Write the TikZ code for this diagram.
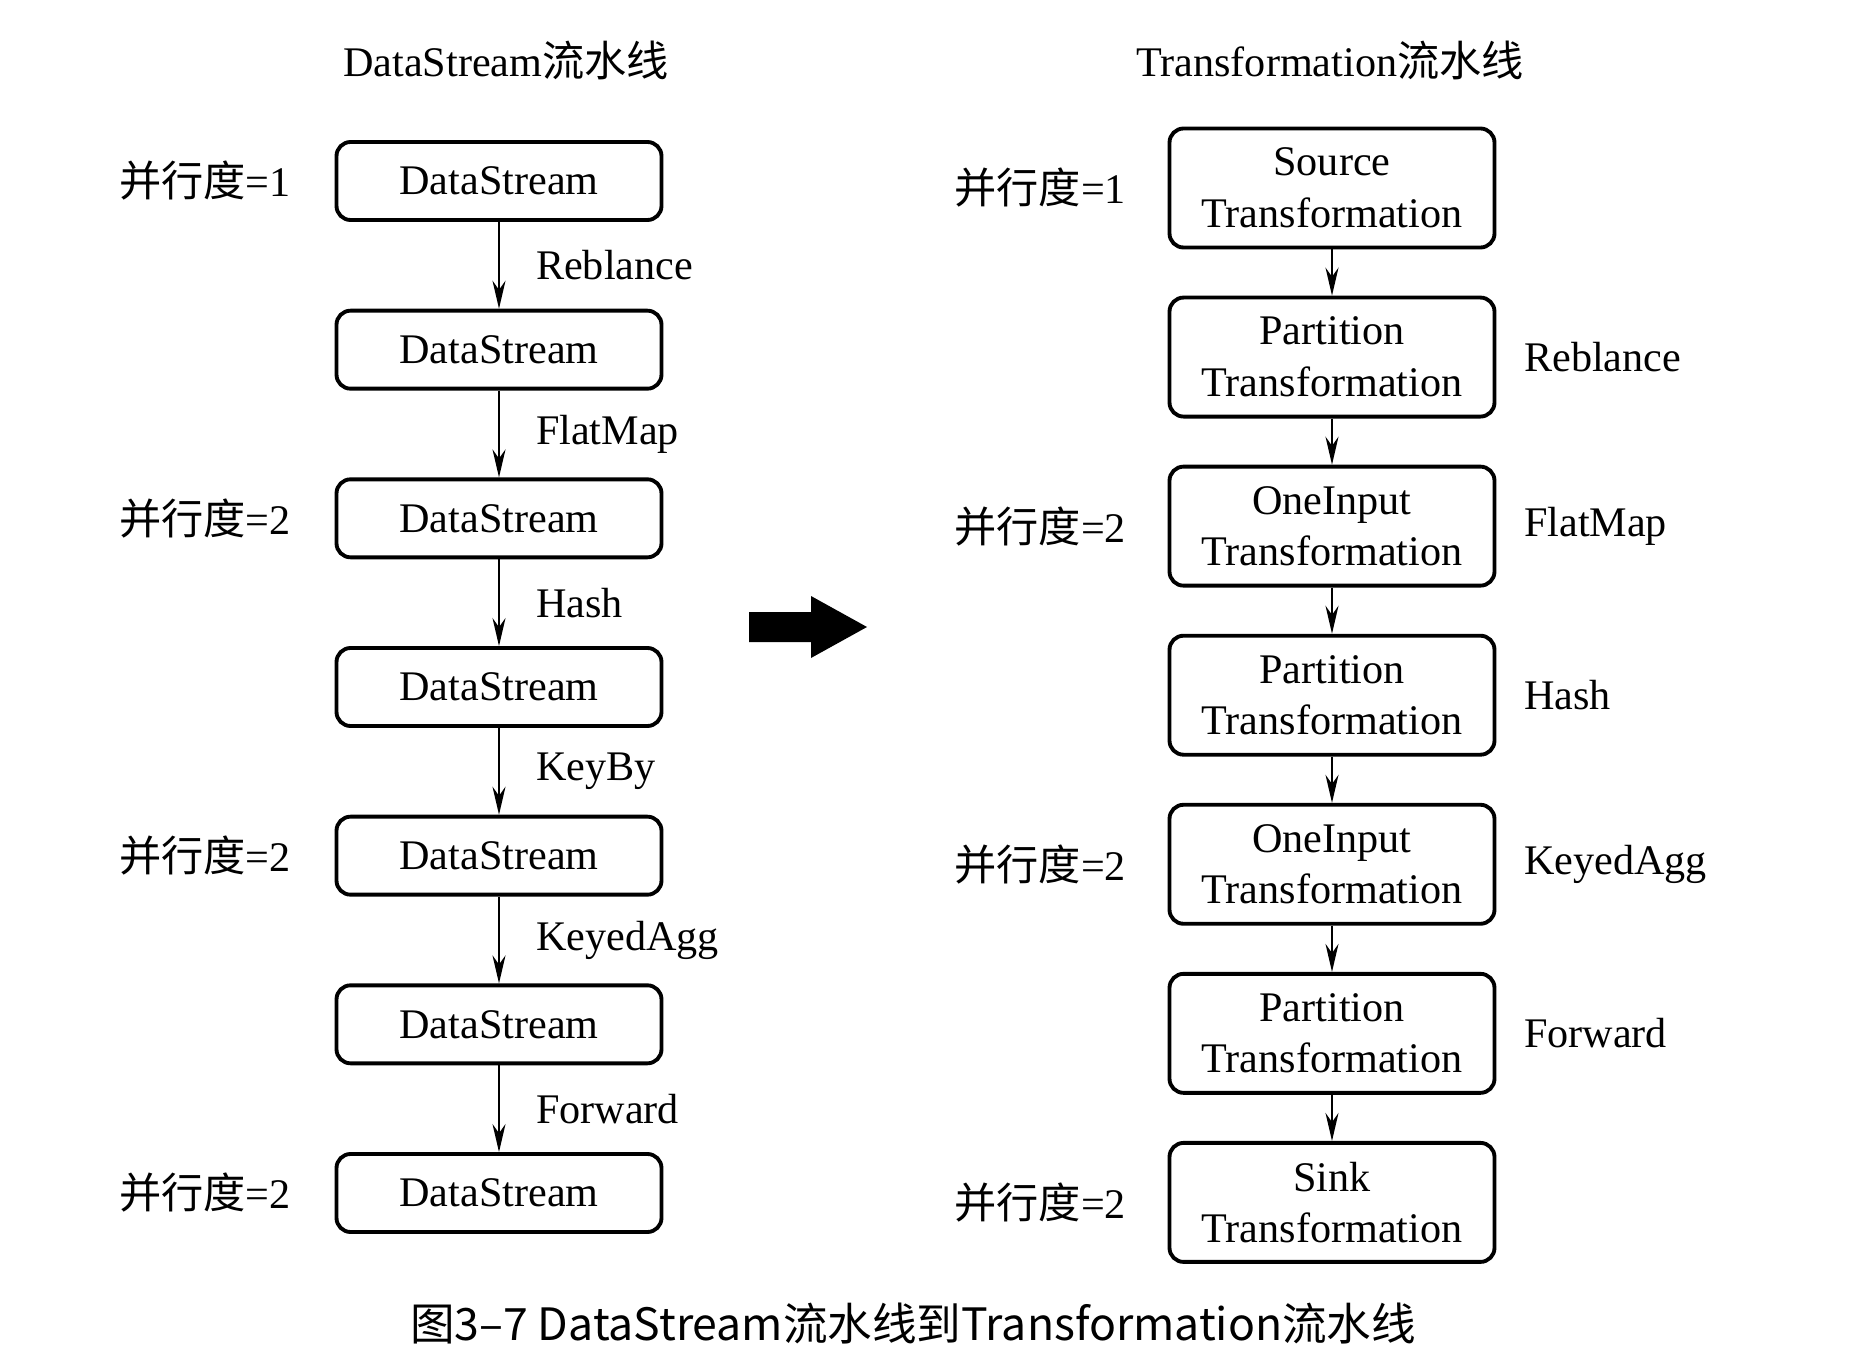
\documentclass[tikz,border=0pt]{standalone}
\usepackage{fontspec}
\usepackage{tikz}
\usetikzlibrary{positioning,arrows.meta}
\setmainfont{Liberation Serif}
\newfontfamily\cjk{Noto Sans CJK SC}

\tikzset{
  para/.style={inner sep=0pt,font=\fontsize{12}{14.7}\selectfont},
  streambox/.style={draw,line width=1.1pt,rounded corners=4pt,minimum width=3.25cm,minimum height=0.78cm,inner sep=0pt,font=\fontsize{12}{14.7}\selectfont},
  transbox/.style={streambox,minimum height=1.19cm,align=center},
  flow/.style={-{Stealth[length=0.28cm,width=0.13cm]},line width=0.6pt}
}

\begin{document}
\begin{tikzpicture}
\useasboundingbox (0,0) rectangle (18.70,-13.54);
\node [para] (lefttitle) at (5.06,-0.60) {DataStream{\cjk 流水线}};
\node [para] (righttitle) at (13.30,-0.60) {Transformation{\cjk 流水线}};

% DataStream pipeline
\node [streambox] (d1) at (4.99,-1.81) {DataStream};
\node [streambox,below=0.868cm of d1] (d2) {DataStream};
\node [streambox,below=0.868cm of d2] (d3) {DataStream};
\node [streambox,below=0.868cm of d3] (d4) {DataStream};
\node [streambox,below=0.868cm of d4] (d5) {DataStream};
\node [streambox,below=0.868cm of d5] (d6) {DataStream};
\node [streambox,below=0.868cm of d6] (d7) {DataStream};

\draw [flow] (d1) -- node [para,right=0.36cm] (e1) {Reblance} (d2);
\draw [flow] (d2) -- node [para,right=0.36cm] (e2) {FlatMap} (d3);
\draw [flow] (d3) -- node [para,right=0.36cm] (e3) {Hash} (d4);
\draw [flow] (d4) -- node [para,right=0.36cm] (e4) {KeyBy} (d5);
\draw [flow] (d5) -- node [para,right=0.36cm] (e5) {KeyedAgg} (d6);
\draw [flow] (d6) -- node [para,right=0.36cm] (e6) {Forward} (d7);

\node [para,left=0.43cm of d1] (p1) {{\cjk 并行度}=1};
\node [para,left=0.43cm of d3] (p3) {{\cjk 并行度}=2};
\node [para,left=0.43cm of d5] (p5) {{\cjk 并行度}=2};
\node [para,left=0.43cm of d7] (p7) {{\cjk 并行度}=2};

% big arrow
\fill (7.49,-6.12) -- (8.11,-6.12) -- (8.11,-5.96) -- (8.67,-6.27)
  -- (8.11,-6.58) -- (8.11,-6.42) -- (7.49,-6.42) -- cycle;

% Transformation pipeline
\node [transbox] (t1) at (13.32,-1.88) {Source\\Transformation};
\node [transbox,below=0.462cm of t1] (t2) {Partition\\Transformation};
\node [transbox,below=0.462cm of t2] (t3) {OneInput\\Transformation};
\node [transbox,below=0.462cm of t3] (t4) {Partition\\Transformation};
\node [transbox,below=0.462cm of t4] (t5) {OneInput\\Transformation};
\node [transbox,below=0.462cm of t5] (t6) {Partition\\Transformation};
\node [transbox,below=0.462cm of t6] (t7) {Sink\\Transformation};

\draw [flow] (t1) -- (t2);
\draw [flow] (t2) -- (t3);
\draw [flow] (t3) -- (t4);
\draw [flow] (t4) -- (t5);
\draw [flow] (t5) -- (t6);
\draw [flow] (t6) -- (t7);

\node [para,right=0.27cm of t2] (r2) {Reblance};
\node [para,right=0.27cm of t3] (r3) {FlatMap};
\node [para,right=0.27cm of t4] (r4) {Hash};
\node [para,right=0.27cm of t5] (r5) {KeyedAgg};
\node [para,right=0.27cm of t6] (r6) {Forward};

\node [para,left=0.41cm of t1] (q1) {{\cjk 并行度}=1};
\node [para,left=0.41cm of t3] (q3) {{\cjk 并行度}=2};
\node [para,left=0.41cm of t5] (q5) {{\cjk 并行度}=2};
\node [para,left=0.41cm of t7] (q7) {{\cjk 并行度}=2};

\node [inner sep=0pt,font=\cjk\fontsize{12.68}{15}\selectfont] (caption) at (9.13,-13.24) {图3–7 DataStream流水线到Transformation流水线};
\end{tikzpicture}
\end{document}
